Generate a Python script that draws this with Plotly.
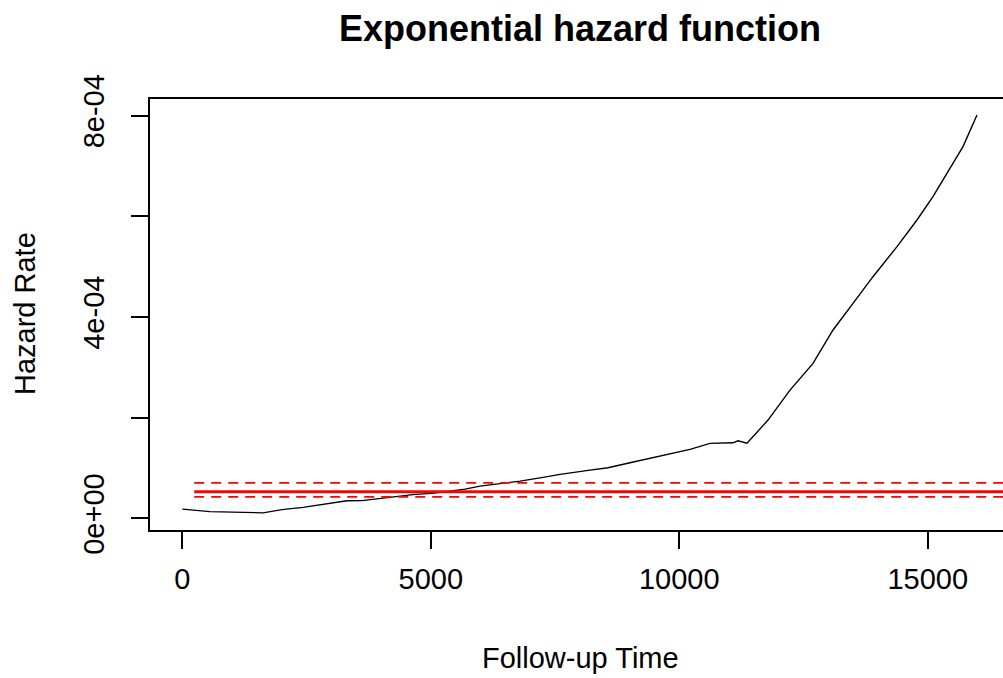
import plotly.graph_objects as go

# Hazard curve
time = [0, 557, 1624, 2006, 2429, 2710, 2972, 3314, 3616, 4239, 4682, 5024, 5688, 5990,
        6453, 6795, 7258, 7600, 8203, 8565, 9008, 9410, 9813, 10215, 10618, 11080, 11181,
        11362, 11785, 12227, 12690, 13093, 13495, 13897, 14380, 14782, 15104, 15507, 15708, 15990]
hazard = [1.85e-5, 1.35e-5, 1.11e-5, 1.75e-5, 2.19e-5, 2.64e-5, 2.98e-5, 3.50e-5, 3.54e-5,
          4.29e-5, 4.77e-5, 4.97e-5, 5.82e-5, 6.42e-5, 6.95e-5, 7.41e-5, 8.15e-5, 8.74e-5,
          9.60e-5, 10.06e-5, 11.05e-5, 11.92e-5, 12.92e-5, 13.71e-5, 14.90e-5, 15.02e-5,
          15.42e-5, 14.96e-5, 19.53e-5, 25.49e-5, 30.80e-5, 37.42e-5, 42.72e-5, 48.01e-5,
          53.97e-5, 59.27e-5, 63.90e-5, 70.54e-5, 73.84e-5, 80.14e-5]

# Exponential model: constant rate and its confidence band
exp_time = [240, 16700]
exp_rate = 5.29e-5
exp_upper = 7.07e-5
exp_lower = 4.29e-5

x_ticks = [0, 5000, 10000, 15000]
x_labels = ["0", "5000", "10000", "15000"]
y_ticks = [0, 2e-4, 4e-4, 6e-4, 8e-4]
y_labels = ["0e+00", "", "4e-04", "", "8e-04"]

FONT = "Liberation Sans, Arial, sans-serif"
FS = 29

fig = go.Figure()
fig.add_trace(go.Scatter(x=time, y=hazard, mode="lines",
                         line=dict(color="black", width=1.4), showlegend=False))
fig.add_trace(go.Scatter(x=exp_time, y=[exp_rate] * 2, mode="lines",
                         line=dict(color="#ff0000", width=3), showlegend=False))
fig.add_trace(go.Scatter(x=exp_time, y=[exp_upper] * 2, mode="lines",
                         line=dict(color="#ff0000", width=1.8, dash="10px,7px"), showlegend=False))
fig.add_trace(go.Scatter(x=exp_time, y=[exp_lower] * 2, mode="lines",
                         line=dict(color="#ff0000", width=1.8, dash="10px,7px"), showlegend=False))

fig.update_layout(
    width=1003, height=678,
    margin=dict(l=150, r=0, t=99, b=148),
    paper_bgcolor="white", plot_bgcolor="white",
    font=dict(family=FONT, color="black", size=FS),
    title=dict(text="<b>Exponential hazard function</b>", x=580 / 1003, xref="container",
               xanchor="center", y=1 - 28 / 678, yref="container", yanchor="middle",
               font=dict(family=FONT, size=36, color="black")),
    xaxis=dict(range=[-650, 16513], tickvals=x_ticks, ticktext=x_labels,
               showgrid=False, zeroline=False, showline=True, linecolor="black",
               linewidth=1.5, mirror=True, ticks="outside", ticklen=17, tickwidth=1.5,
               tickcolor="black", tickfont=dict(size=FS), ticklabelstandoff=5),
    yaxis=dict(range=[-2.3e-5, 8.33e-4], tickvals=y_ticks, ticktext=y_labels,
               showgrid=False, zeroline=False, showline=True, linecolor="black",
               linewidth=1.5, ticks="outside", ticklen=17, tickwidth=1.5,
               tickcolor="black", tickangle=-90, tickfont=dict(size=FS),
               ticklabelstandoff=16),
)
fig.add_annotation(text="Follow-up Time", xref="x domain", yref="y domain",
                   x=(580 - 150) / 853, y=-(658 - 530) / 431,
                   showarrow=False, xanchor="center", yanchor="middle", font=dict(size=FS))
fig.add_annotation(text="Hazard Rate", xref="x domain", yref="y domain",
                   x=-(150 - 25) / 853, y=(530 - 314) / 431, textangle=-90,
                   showarrow=False, xanchor="center", yanchor="middle", font=dict(size=FS))

fig.write_html("out.html")
